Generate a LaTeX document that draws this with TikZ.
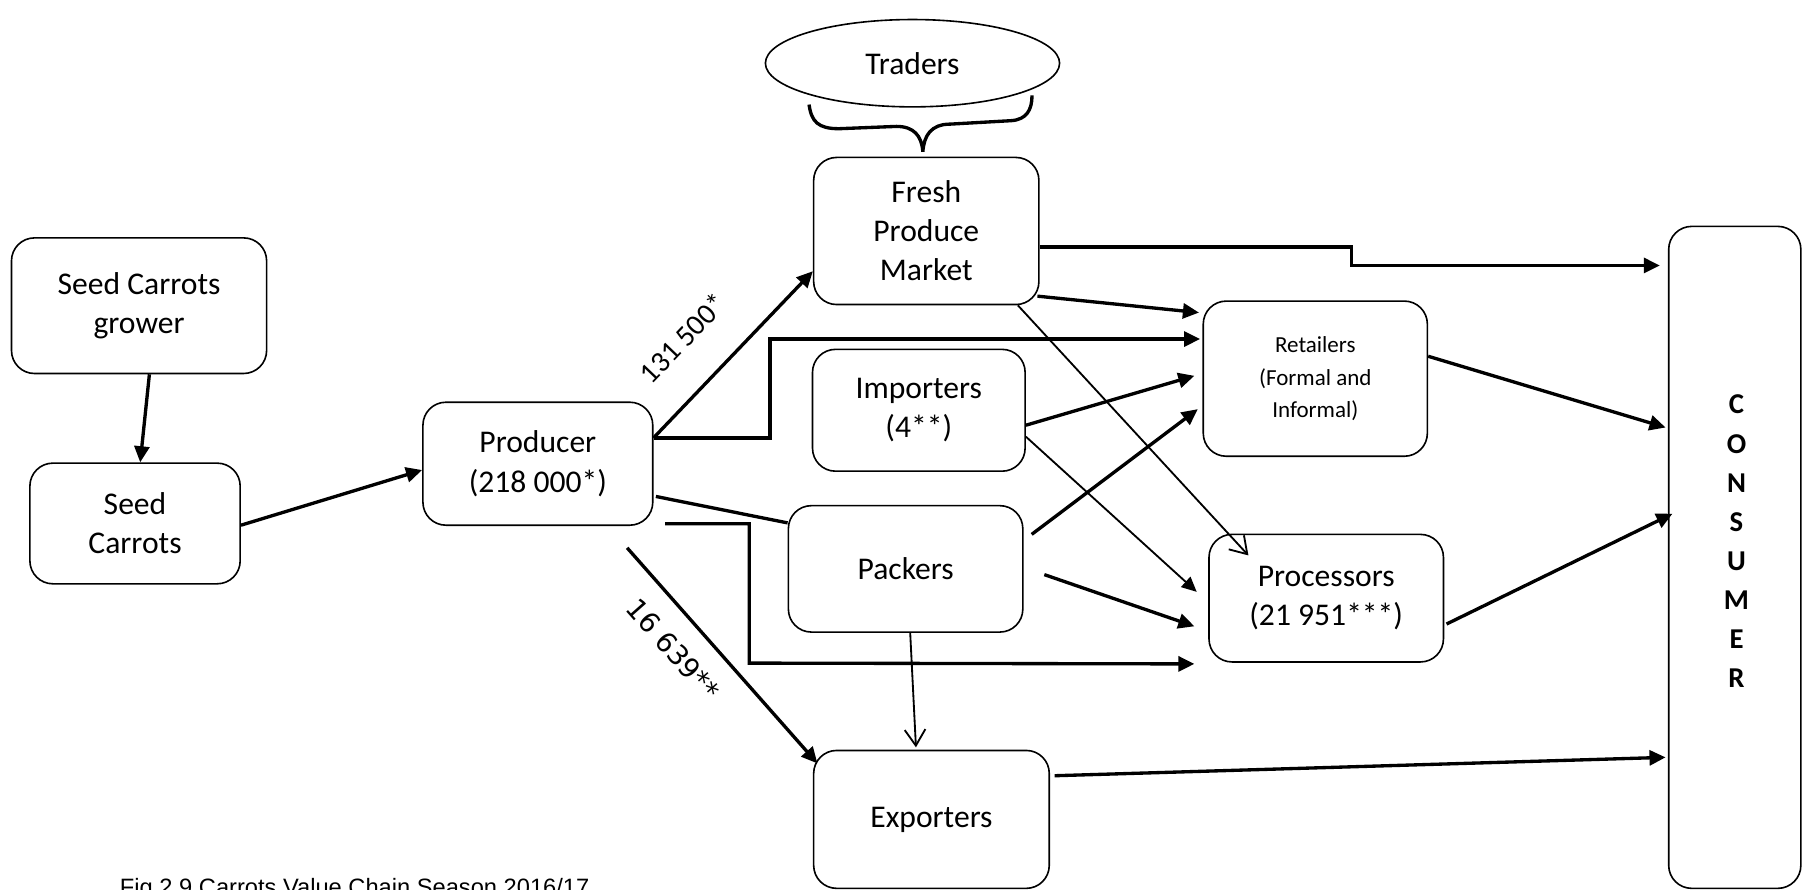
\documentclass[tikz,border=0pt]{standalone}
\usepackage{fontspec}
\newfontfamily\carl{Carlito}
\newfontfamily\arialf{Liberation Sans}
\newfontfamily\djv{DejaVu Sans}
\usetikzlibrary{arrows.meta,calc,shapes.geometric}
\begin{document}
\begin{tikzpicture}[x=0.5pt,y=-0.5pt,
  box/.style={draw, line width=0.7pt, rounded corners=10pt, align=center, inner sep=0pt,
    font=\carl\fontsize{13.75pt}{17pt}\selectfont},
  smallbox/.style={box, font=\carl\fontsize{10pt}{14.25pt}\selectfont},
  thk/.style={line width=1.45pt, -{Triangle[length=7pt,width=6.5pt]}},
  thkplain/.style={line width=1.45pt},
  thinfill/.style={line width=0.8pt, -{Triangle[length=6.5pt,width=6pt]}},
  thinopen/.style={line width=0.8pt, -{Straight Barb[length=7pt,width=9pt]}},
  lblone/.style={inner sep=0pt, font=\carl\fontsize{12.8pt}{14pt}\selectfont},
  lbltwo/.style={inner sep=0pt, font=\djv\fontsize{12pt}{14pt}\selectfont}]
\useasboundingbox (0,0) rectangle (1568,774);
\clip (0,0) rectangle (1568,774);

% nodes
\node[box, minimum width=111pt, minimum height=59pt] (grower) at (121,266) {Seed Carrots\\grower};
\node[box, minimum width=91.5pt, minimum height=52.5pt] (seed) at (117.5,455.5) {Seed\\Carrots};
\node[box, minimum width=100pt, minimum height=53.5pt] (producer) at (468,403.5) {Producer\\(218 000*)};
\node[box, minimum width=98pt, minimum height=64pt] (fresh) at (806,201) {Fresh\\Produce\\Market};
\node[box, minimum width=92.5pt, minimum height=53pt] (importers) at (799.5,357) {Importers\\(4**)};
\node[box, minimum width=102pt, minimum height=55pt] (packers) at (788,495) {Packers};
\node[box, minimum width=102.5pt, minimum height=60pt] (exporters) at (810.5,713) {Exporters};
\node[smallbox, minimum width=97.5pt, minimum height=67.5pt] (retailers) at (1144.5,329.5) {Retailers\\(Formal and\\Informal)};
\node[box, minimum width=102pt, minimum height=55.5pt] (processors) at (1154,520.5) {Processors\\(21 951***)};
\node[draw, line width=0.7pt, rounded corners=10pt, minimum width=57.5pt, minimum height=288pt, inner sep=0pt] (consumer) at (1509.5,485) {};
\node[align=center, inner sep=0pt, font=\carl\bfseries\fontsize{12.5pt}{17pt}\selectfont] (consumertext) at (1511,471) {C\\O\\N\\S\\U\\M\\E\\R};
\node[draw, ellipse, line width=0.7pt, minimum width=128pt, minimum height=38pt, inner sep=0pt,
  font=\carl\fontsize{13.75pt}{17pt}\selectfont] (traders) at (794,55) {Traders};
\node[anchor=base west, inner sep=0pt, font=\arialf\fontsize{10.3pt}{12pt}\selectfont] (caption) at (104,779) {Fig 2.9 Carrots Value Chain Season 2016/17};

% brace under traders
\draw[line width=1.45pt] (704,91) .. controls (706,106) and (712,112) .. (730,112)
  -- (780,110) .. controls (795,110) and (802,118) .. (803,132)
  .. controls (804,118) and (810,108) .. (827,108)
  -- (880,105) .. controls (893,104) and (898,96) .. (898,83);

% connectors
\draw[thk] (grower.south -| 130,0) -- (seed.north -| 122,0);
\draw[thk] (seed.east |- 0,457) -- (producer.west |- 0,409);
\draw[thk] (producer.east |- 0,381) -- node[lblone, sloped, pos=0.40, above=15.5pt] {131 500*} (fresh.west |- 0,236);
\draw[thk] (producer.east |- 0,381) -| (670,295) -- ($(retailers.west |- 0,295)+(-2,0)$);
\draw[thkplain] ($(producer.east |- 0,432)+(2,0)$) -- (packers.west |- 0,455);
\draw[thk] ($(producer.south east)+(10,-2)$) -| (652,577) -- ($(processors.south west)+(-12,1)$);
\draw[thk] ($(producer.south east)+(-23,19)$) -- node[lbltwo, sloped, pos=0.37, below=9pt] {16 639**} ($(exporters.north west)+(4,12)$);

\draw[thk] (fresh.east |- 0,215) -| (1176,231) -- ($(consumer.west |- 0,231)+(-7,0)$);
\draw[thk] ($(fresh.south east)+(-2,-8)$) -- ($(retailers.west |- 0,272)+(-3,0)$);
\draw[thinopen] ($(fresh.south east)+(-19,0)$) -- ($(processors.north west)+(35,19)$);

\draw[thk] (importers.east |- 0,370) -- ($(retailers.west |- 0,327)+(-7,0)$);
\draw[thinfill] (importers.east |- 0,380) -- ($(processors.west |- 0,515)+(-10,0)$);

\draw[thk] ($(packers.east |- 0,465)+(7,0)$) -- ($(retailers.west |- 0,356)+(-4,0)$);
\draw[thk] ($(packers.east |- 0,500)+(18,0)$) -- ($(processors.west |- 0,545)+(-12,0)$);
\draw[thinopen] (packers.south -| 792,0) -- ($(exporters.north -| 797,0)+(0,-2)$);

\draw[thk] ($(exporters.east |- 0,675)+(4,0)$) -- ($(consumer.west |- 0,659)+(-2,0)$);
\draw[thk] (retailers.east |- 0,310) -- ($(consumer.west |- 0,372)+(-2,0)$);
\draw[thk] ($(processors.east |- 0,543)+(2,0)$) -- ($(consumer.west |- 0,447)+(4,0)$);
\end{tikzpicture}
\end{document}
